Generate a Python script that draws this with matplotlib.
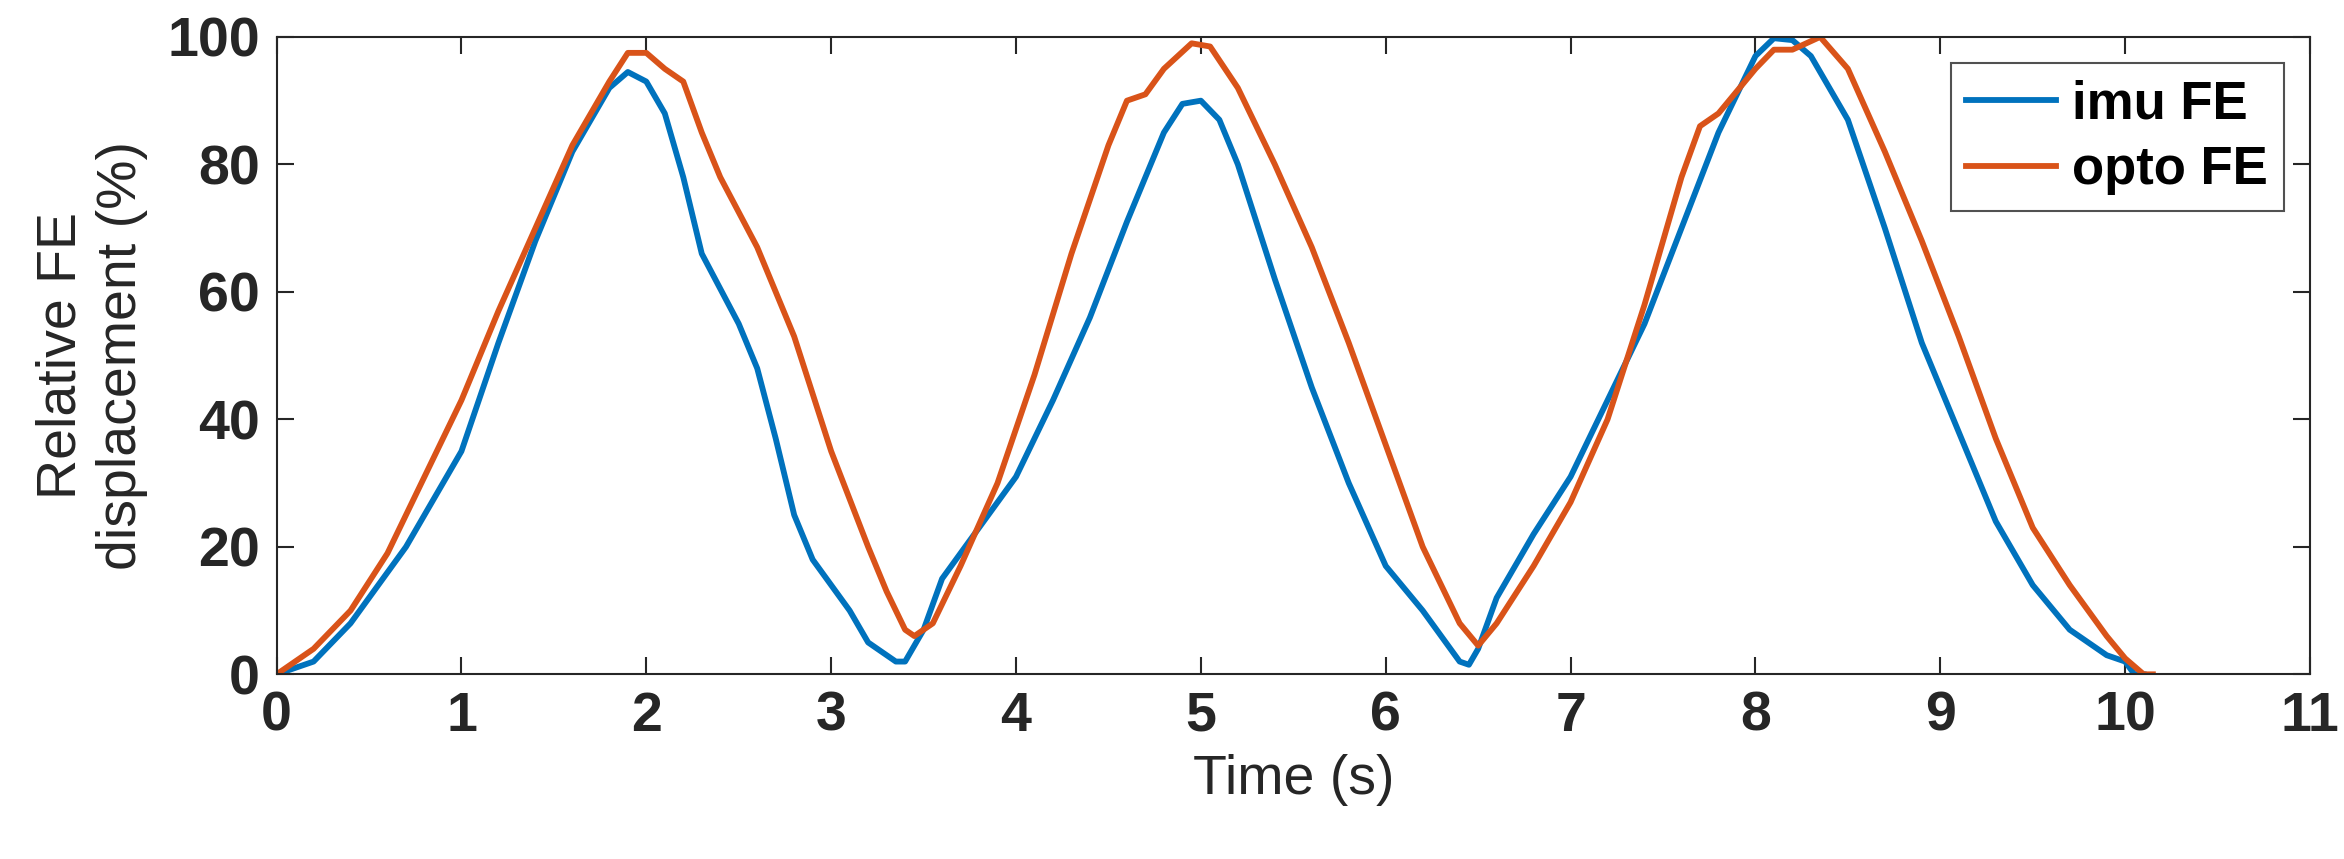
import matplotlib
matplotlib.use("Agg")
import matplotlib.pyplot as plt

imu_t = [0,0.2,0.4,0.5,0.7,1.0,1.2,1.4,1.6,1.8,1.9,2.0,2.1,2.2,2.3,2.5,2.6,2.7,2.8,2.9,3.0,3.1,3.2,3.35,3.4,3.5,3.6,3.8,4.0,4.2,4.4,4.6,4.8,4.9,5.0,5.1,5.2,5.4,5.6,5.8,6.0,6.2,6.3,6.4,6.45,6.5,6.6,6.8,7.0,7.2,7.4,7.6,7.8,8.0,8.1,8.2,8.3,8.5,8.7,8.9,9.1,9.3,9.5,9.7,9.9,10.0,10.05,10.1]
imu_v = [0,2,8,12,20,35,52,68,82,92,94.5,93,88,78,66,55,48,37,25,18,14,10,5,2,2,7,15,23,31,43,56,71,85,89.5,90,87,80,62,45,30,17,10,6,2,1.5,4,12,22,31,43,55,70,85,97,99.8,99.5,97,87,70,52,38,24,14,7,3,2,0,0]
opto_t = [0,0.2,0.4,0.6,0.8,1.0,1.2,1.4,1.6,1.8,1.9,2.0,2.1,2.2,2.3,2.4,2.6,2.8,3.0,3.2,3.3,3.4,3.45,3.55,3.7,3.9,4.1,4.3,4.5,4.6,4.7,4.8,4.95,5.05,5.2,5.4,5.6,5.8,6.0,6.2,6.4,6.5,6.6,6.8,7.0,7.2,7.4,7.5,7.6,7.7,7.8,8.0,8.1,8.2,8.35,8.5,8.7,8.9,9.1,9.3,9.5,9.7,9.9,10.0,10.1,10.15]
opto_v = [0,4,10,19,31,43,57,70,83,93,97.5,97.5,95,93,85,78,67,53,35,20,13,7,6,8,17,30,47,66,83,90,91,95,99,98.5,92,80,67,52,36,20,8,4.5,8,17,27,40,58,68,78,86,88,95,98,98,100,95,82,68,53,37,23,14,6,2.5,0,0]

plt.rcParams['font.family'] = ['Liberation Sans', 'DejaVu Sans']
plt.rcParams['font.weight'] = 'bold'
fig = plt.figure(figsize=(23.44, 8.59), dpi=100)
ax = fig.add_axes([0.118, 0.215, 0.8675, 0.742])
ax.plot(imu_t, imu_v, color='#0072BD', lw=4.2, label='imu FE')
ax.plot(opto_t, opto_v, color='#D95319', lw=4.2, label='opto FE')
ax.set_xlim(0, 11); ax.set_ylim(0, 100)
ax.set_xticks(range(12)); ax.set_yticks(range(0, 101, 20))
ax.tick_params(labelsize=40, colors='#262626', direction='in', length=12, width=1.5, top=True, right=True, pad=12)
for s in ax.spines.values(): s.set_linewidth(1.5); s.set_color('#262626')
ax.set_xlabel('Time (s)', fontsize=40, color='#262626', labelpad=8)
ax.set_ylabel('Relative FE\ndisplacement (%)', fontsize=40, color='#262626', labelpad=14)
leg = ax.legend(fontsize=38, loc='upper right', fancybox=False, edgecolor='#262626', borderaxespad=0.5,
                handlelength=1.7, handletextpad=0.3, borderpad=0.3, labelspacing=0.3)
leg.get_frame().set_linewidth(1.5)
fig.savefig('out.png', dpi=100)
